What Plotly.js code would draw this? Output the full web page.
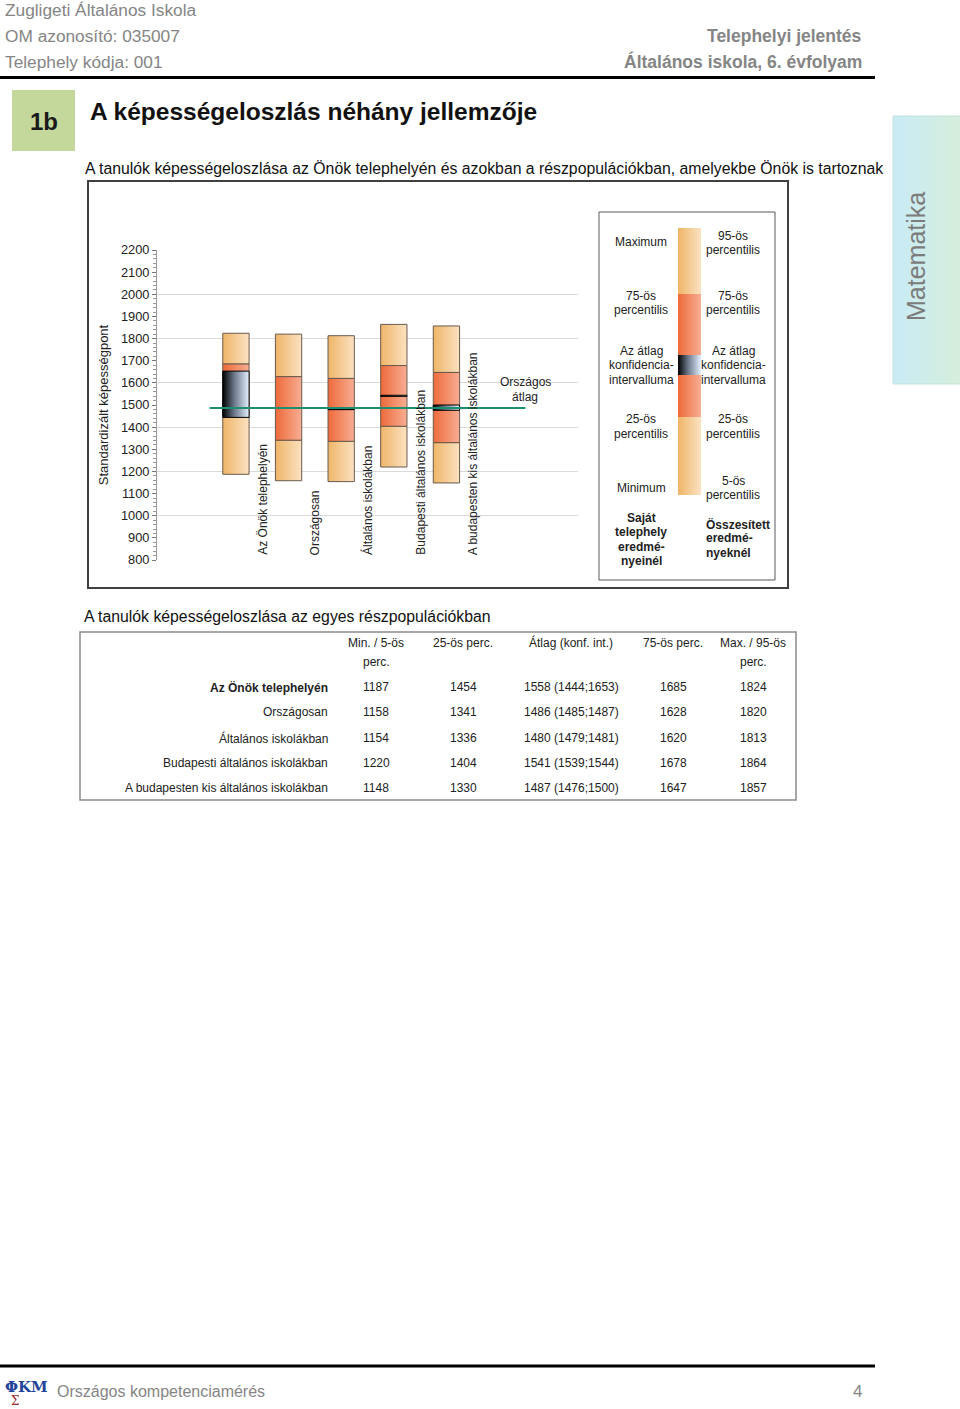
<!DOCTYPE html>
<html>
<head>
<meta charset="utf-8">
<script src="https://cdn.plot.ly/plotly-3.0.1.min.js"></script>
<style>
html,body{margin:0;padding:0;background:#fff;}
#page{width:960px;height:1409px;}
</style>
</head>
<body>
<div id="page"></div>
<script>
// ---------------- DATA ----------------
const categories = ['Az Önök telephelyén', 'Országosan', 'Általános iskolákban', 'Budapesti általános iskolákban', 'A budapesten kis általános iskolákban'];
const minV  = [1187, 1158, 1154, 1220, 1148];
const p25V  = [1454, 1341, 1336, 1404, 1330];
const meanV = [1558, 1486, 1480, 1541, 1487];
const ciLoV = [1444, 1485, 1479, 1539, 1476];
const ciHiV = [1653, 1487, 1481, 1544, 1500];
const p75V  = [1685, 1628, 1620, 1678, 1647];
const maxV  = [1824, 1820, 1813, 1864, 1857];
const nationalIndex = 1; // "Országosan" mean drawn as the national average line

const yTitle = 'Standardizált képességpont';
const tableHeaders = [['Min. / 5-ös', 'perc.'], ['25-ös perc.'], ['Átlag (konf. int.)'], ['75-ös perc.'], ['Max. / 95-ös', 'perc.']];

// schematic legend bar levels (min, p25, ciLo, ciHi, p75, max)
const legendLevels = [0, 78, 120, 140, 201, 267];

// ---------------- HELPERS ----------------
const W = 960, H = 1409;
const fx = x => x / W;
const fy = y => 1 - y / H;
const SANS = "'Liberation Sans', Arial, sans-serif";
const NARROW = "'Liberation Sans Narrow', 'Arial Narrow', 'Liberation Sans', sans-serif";
const annotations = [];
const shapes = [];

function txt(x, y, text, o = {}) {
  annotations.push({
    xref: 'paper', yref: 'paper', x: fx(x), y: fy(y), text: text, showarrow: false,
    xanchor: o.xa || 'left', yanchor: 'middle', borderpad: 0, textangle: o.angle || 0,
    font: { family: o.family || SANS, size: o.size || 12, color: o.color || '#222' }
  });
}
function lines(x, y0, arr, o = {}) {
  const lh = o.lh || 14.4;
  arr.forEach((t, i) => txt(x, y0 + i * lh, o.bold ? '<b>' + t + '</b>' : t, o));
}
function rect(x0, y0, x1, y1, o = {}) {
  shapes.push({ type: 'rect', xref: 'paper', yref: 'paper', x0: fx(x0), x1: fx(x1), y0: fy(y1), y1: fy(y0),
    fillcolor: o.fill || 'rgba(0,0,0,0)', line: { color: o.line || 'rgba(0,0,0,0)', width: o.lw === undefined ? 1 : o.lw }, layer: o.layer || 'below' });
  return shapes.length - 1;
}
function hline(x0, x1, y, o = {}) {
  shapes.push({ type: 'line', xref: 'paper', yref: 'paper', x0: fx(x0), x1: fx(x1), y0: fy(y), y1: fy(y),
    line: { color: o.color || '#000', width: o.width || 1 } });
}

// ---------------- PAGE HEADER ----------------
const GRAY = '#858585';
txt(4, 10, 'Zugligeti Általános Iskola', { family: NARROW, size: 17.3, color: GRAY });
txt(4, 36, 'OM azonosító: 035007', { family: NARROW, size: 17.3, color: GRAY });
txt(4, 62, 'Telephely kódja: 001', { family: NARROW, size: 17.3, color: GRAY });
txt(863, 36, '<b>Telephelyi jelentés</b>', { family: NARROW, size: 17.5, color: GRAY, xa: 'right' });
txt(863, 62, '<b>Általános iskola, 6. évfolyam</b>', { family: NARROW, size: 17.5, color: GRAY, xa: 'right' });
hline(0, 875, 77.5, { width: 3 });

rect(12, 90, 75, 151, { fill: '#c5d89c' });
txt(44, 121, '<b>1b</b>', { family: NARROW, size: 24, color: '#1a1a1a', xa: 'center' });
txt(89, 111, '<b>A képességeloszlás néhány jellemzője</b>', { family: NARROW, size: 24.5, color: '#111' });
txt(84, 169, 'A tanulók képességeloszlása az Önök telephelyén és azokban a részpopulációkban, amelyekbe Önök is tartoznak', { size: 15.8, color: '#111' });

const tabIdx = rect(893, 116, 962, 384, { fill: '#cfeee8', line: '#c2e2da' });
txt(916, 257, 'Matematika', { size: 25, color: '#7c7c7c', xa: 'center', angle: -90 });

// ---------------- CHART FRAME & LEGEND ----------------
rect(88, 181, 788, 588, { line: '#404040', lw: 2 });
rect(599, 212, 775, 580, { line: '#5a5a5a', lw: 1 });

const LC = 641, RC = 733;
const cen = { xa: 'center' };
lines(LC, 241.7, ['Maximum'], cen);
lines(LC, 296, ['75-ös', 'percentilis'], cen);
lines(LC, 351, ['Az átlag', 'konfidencia-', 'intervalluma'], cen);
lines(LC, 419.5, ['25-ös', 'percentilis'], cen);
lines(LC, 488, ['Minimum'], cen);
lines(LC, 518, ['Saját', 'telephely', 'eredmé-', 'nyeinél'], { bold: true, xa: 'center' });
lines(RC, 236, ['95-ös', 'percentilis'], cen);
lines(RC, 296, ['75-ös', 'percentilis'], cen);
lines(RC, 351, ['Az átlag', 'konfidencia-', 'intervalluma'], cen);
lines(RC, 419.5, ['25-ös', 'percentilis'], cen);
lines(RC, 481, ['5-ös', 'percentilis'], cen);
lines(705, 524, ['Összesített', 'eredmé-', 'nyeknél'], { bold: true });

lines(525, 381.7, ['Országos', 'átlag'], { lh: 15, xa: 'center' });

// category labels (rotated, beside each bar)
categories.forEach((c, i) => {
  annotations.push({ xref: 'x', yref: 'y', x: i + 0.5, y: 818, text: c, showarrow: false, textangle: -90,
    xanchor: 'center', yanchor: 'bottom', borderpad: 0, font: { family: SANS, size: 12, color: '#222' } });
});

// ---------------- TABLE ----------------
txt(83, 616, 'A tanulók képességeloszlása az egyes részpopulációkban', { size: 15.8, color: '#111' });
rect(80, 632, 796, 800, { line: '#8a8a8a', lw: 1.5 });
const colX = [376, 463, 571, 673, 753];
tableHeaders.forEach((h, j) => h.forEach((t, k) => txt(colX[j], 643 + k * 19, t, { xa: 'center', size: 12 })));
const rowY = [687, 712, 738, 763, 788];
categories.forEach((c, i) => {
  txt(329, rowY[i], i === 0 ? '<b>' + c + '</b>' : c, { xa: 'right', size: 12 });
  const cells = [minV[i], p25V[i], meanV[i] + ' (' + ciLoV[i] + ';' + ciHiV[i] + ')', p75V[i], maxV[i]];
  cells.forEach((v, j) => txt(colX[j], rowY[i], String(v), { xa: 'center', size: 12 }));
});

// ---------------- FOOTER ----------------
hline(0, 875, 1366, { width: 3 });
txt(4, 1387, '<b>ΦKM</b>', { family: "'DejaVu Serif', serif", size: 15, color: '#23449a' });
txt(10, 1401, 'Σ', { family: "'DejaVu Serif', serif", size: 12, color: '#9a2a2a' });
txt(56, 1391, 'Országos kompetenciamérés', { family: NARROW, size: 16, color: GRAY });
txt(863, 1391, '4', { family: NARROW, size: 17, color: GRAY, xa: 'right' });

// ---------------- TRACES ----------------
const xs = categories.map((_, i) => i);
const diff = (a, b) => a.map((v, i) => v - b[i]);
const OUT = { color: '#6a5a4c', width: 1 };
function seg(base, top, grad, fallback, xa, ya, x, width, line) {
  return { type: 'bar', x: x, base: base, y: diff(top, base), width: width, xaxis: xa, yaxis: ya,
    marker: { color: fallback, line: line }, meta: grad, hoverinfo: 'skip', showlegend: false };
}
const w5 = xs.map(() => 0.5);
const data = [
  seg(minV, p25V, 'gLight', '#f5c990', 'x', 'y', xs, w5, OUT),
  seg(p75V, maxV, 'gLight', '#f5c990', 'x', 'y', xs, w5, OUT),
  seg(p25V, p75V, 'gSalmon', '#f38c66', 'x', 'y', xs, w5, OUT),
  seg(ciLoV, ciHiV, 'gCI', '#5a6270', 'x', 'y', xs, w5, { color: '#000', width: 1 }),
  { type: 'scatter', mode: 'lines', x: [-0.5, 5.5], y: [meanV[nationalIndex], meanV[nationalIndex]],
    line: { color: '#1d8f6e', width: 2 }, xaxis: 'x', yaxis: 'y', hoverinfo: 'skip', showlegend: false },
  { type: 'scatter', x: [], y: [], xaxis: 'x', yaxis: 'y3', showlegend: false, hoverinfo: 'skip' },
  // legend schematic bar
  seg([legendLevels[0]], [legendLevels[1]], 'gLight', '#f5c990', 'x2', 'y4', [0], [1], { width: 0 }),
  seg([legendLevels[4]], [legendLevels[5]], 'gLight', '#f5c990', 'x2', 'y4', [0], [1], { width: 0 }),
  seg([legendLevels[1]], [legendLevels[4]], 'gSalmon', '#f38c66', 'x2', 'y4', [0], [1], { width: 0 }),
  seg([legendLevels[2]], [legendLevels[3]], 'gCI', '#5a6270', 'x2', 'y4', [0], [1], { width: 0 })
];

const layout = {
  width: W, height: H, margin: { l: 0, r: 0, t: 0, b: 0 },
  paper_bgcolor: '#fff', plot_bgcolor: 'rgba(0,0,0,0)',
  barmode: 'overlay', showlegend: false,
  font: { family: SANS, color: '#222' },
  xaxis: { domain: [fx(157), fx(578)], range: [-1.5, 6.5], visible: false, anchor: 'y', fixedrange: true },
  yaxis: {
    domain: [fy(560), fy(250)], range: [800, 2200], tick0: 800, dtick: 100, anchor: 'x',
    ticks: 'outside', ticklen: 4, tickwidth: 1, tickcolor: '#777',
    showline: true, linecolor: '#9a9a9a', linewidth: 1, showgrid: false, zeroline: false,
    tickfont: { family: SANS, size: 12.8, color: '#222' },
    minor: { dtick: 20, ticks: 'outside', ticklen: 3, tickcolor: '#999', showgrid: false },
    title: { text: yTitle, font: { family: SANS, size: 13, color: '#222' }, standoff: 9 },
    automargin: false, fixedrange: true
  },
  yaxis3: { overlaying: 'y', anchor: 'x', side: 'left', range: [800, 2200], tick0: 800, dtick: 200,
    showgrid: true, gridcolor: '#dadada', gridwidth: 1, showticklabels: false, ticks: '',
    showline: false, zeroline: false, automargin: false, fixedrange: true },
  xaxis2: { domain: [fx(678), fx(701)], range: [-0.5, 0.5], visible: false, anchor: 'y4', fixedrange: true },
  yaxis4: { domain: [fy(495), fy(228)], range: [legendLevels[0], legendLevels[5]], visible: false, anchor: 'x2', fixedrange: true },
  shapes: shapes,
  annotations: annotations
};

const gd = document.getElementById('page');
Plotly.newPlot(gd, data, layout, { staticPlot: true, displayModeBar: false }).then(() => {
  const NS = 'http://www.w3.org/2000/svg';
  const svg = gd.querySelector('svg.main-svg');
  let defs = svg.querySelector('defs');
  if (!defs) { defs = document.createElementNS(NS, 'defs'); svg.insertBefore(defs, svg.firstChild); }
  function grad(id, stops) {
    const g = document.createElementNS(NS, 'linearGradient');
    g.setAttribute('id', id);
    g.setAttribute('x1', '0'); g.setAttribute('x2', '1'); g.setAttribute('y1', '0'); g.setAttribute('y2', '0');
    stops.forEach(([o, c]) => { const s = document.createElementNS(NS, 'stop'); s.setAttribute('offset', o); s.setAttribute('stop-color', c); g.appendChild(s); });
    defs.appendChild(g);
  }
  grad('gLight', [['0', '#efb568'], ['1', '#fbe2c2']]);
  grad('gSalmon', [['0', '#ee6a3a'], ['1', '#f7ae94']]);
  grad('gCI', [['0', '#000000'], ['0.45', '#6f7b8e'], ['1', '#e4f1ff']]);
  grad('gTab', [['0', '#c8ebf6'], ['1', '#d6eedb']]);
  gd.querySelectorAll('.barlayer .trace').forEach(g => {
    const d = g.__data__;
    const meta = d && d[0] && d[0].trace && d[0].trace.meta;
    if (meta) g.querySelectorAll('path').forEach(p => { p.style.fill = 'url(#' + meta + ')'; });
  });
  const tab = gd.querySelector('path[data-index="' + tabIdx + '"]');
  if (tab) tab.style.fill = 'url(#gTab)';
});
</script>
</body>
</html>
